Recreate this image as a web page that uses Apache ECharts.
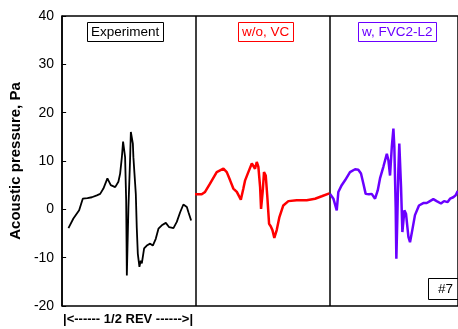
<!DOCTYPE html>
<html><head><meta charset="utf-8">
<script src="https://cdn.jsdelivr.net/npm/echarts@6/dist/echarts.min.js"></script>
<style>html,body{margin:0;padding:0;background:#fff}#c{width:458px;height:329px}</style>
</head><body><div id="c"></div>
<script>
// Phase within each 1/2 revolution panel (0..1) and acoustic pressure (Pa)
const expPhase = [0.047,0.084,0.127,0.154,0.189,0.222,0.259,0.284,0.308,0.338,0.363,0.396,0.420,0.433,0.446,0.455,0.470,0.478,0.483,0.495,0.507,0.513,0.528,0.532,0.540,0.550,0.557,0.565,0.577,0.587,0.595,0.612,0.632,0.657,0.677,0.699,0.719,0.744,0.774,0.799,0.831,0.856,0.881,0.905,0.931,0.943,0.963];
const expPa    = [-3.9,-1.9,-0.2,2.2,2.3,2.5,2.9,3.2,4.3,6.4,5.0,4.6,5.7,7.4,10.8,14.0,10.8,1.9,-13.7,0.5,10.1,16.0,13.6,10.8,7.4,3.2,-3.7,-9.2,-11.9,-10.6,-11.2,-8.1,-7.5,-7.1,-7.5,-6.1,-4.0,-3.3,-2.8,-3.7,-3.9,-2.6,-0.6,1.0,0.5,-0.6,-2.3];

const woPhase = [-0.008,0.042,0.067,0.104,0.154,0.204,0.229,0.254,0.278,0.304,0.334,0.353,0.366,0.390,0.416,0.428,0.440,0.453,0.465,0.478,0.485,0.498,0.507,0.520,0.532,0.545,0.557,0.570,0.584,0.602,0.622,0.651,0.689,0.751,0.826,0.888,0.938,0.995];
const woPa    = [3.1,3.1,3.6,5.3,7.7,8.4,7.7,6.0,4.3,3.6,2.0,4.3,6.0,7.7,9.5,9.8,8.4,9.8,8.8,4.6,0.1,3.9,7.7,7.0,2.5,-3.0,-3.5,-4.3,-5.9,-4.3,-1.6,0.8,1.7,1.9,1.9,2.2,2.7,3.3];

const wPhase = [0.000,0.025,0.050,0.062,0.087,0.112,0.149,0.187,0.211,0.231,0.249,0.266,0.291,0.311,0.336,0.356,0.373,0.398,0.424,0.436,0.448,0.461,0.473,0.480,0.490,0.495,0.502,0.510,0.517,0.530,0.540,0.555,0.567,0.585,0.597,0.614,0.634,0.664,0.696,0.722,0.746,0.771,0.796,0.828,0.851,0.878,0.896,0.920,0.938,0.953];
const wPa    = [3.2,2.2,-0.2,3.6,5.0,6.0,7.7,8.3,8.2,7.4,5.3,3.2,3.1,3.2,2.2,3.9,6.4,8.8,11.5,10.1,7.0,12.9,16.7,12.9,0.5,-10.2,-2.3,8.1,13.6,4.6,-4.7,-0.2,-0.9,-5.7,-6.8,-4.3,-1.2,0.8,1.3,1.3,1.7,2.1,1.7,1.2,1.7,1.5,2.2,2.5,2.9,3.8];

const yTicks = [-20,-10,0,10,20,30,40];
const panelLabels = ['Experiment','w/o, VC','w, FVC2-L2'];
const caseLabel = '#7';
const xLabel = '|<------ 1/2 REV ------>|';
const yLabel = 'Acoustic pressure, Pa';

const FONT = 'Liberation Sans, Arial, sans-serif';
const colors = ['#000000','#ff0000','#6a00ff'];
const pair = (ph, pa, off) => ph.map((p,i)=>[p+off, pa[i]]);
const xMax = 396/134; // visible part of the third panel

const chart = echarts.init(document.getElementById('c'), null, {renderer:'canvas'});
const boxAxis = (pos, split) => ({type:'value', position:pos, min:0, max:xMax, interval:1,
    axisLine:{show:true, onZero:false, lineStyle:{color:'#000', width:1.5}},
    axisTick:{show:false}, axisLabel:{show:false},
    splitLine:{show:split, lineStyle:{color:'#000', width:1.5}}});
chart.setOption({
  animation:false,
  backgroundColor:'#fff',
  grid:{left:62, top:16, right:0, height:290},
  xAxis:[boxAxis('bottom', true), boxAxis('top', false)],
  yAxis:{type:'value', min:yTicks[0], max:yTicks[yTicks.length-1], interval:10,
    name:yLabel, nameLocation:'middle', nameGap:29, nameRotate:90,
    nameTextStyle:{fontFamily:FONT, fontSize:15, fontWeight:'bold', color:'#000'},
    axisLine:{show:true, onZero:false, lineStyle:{color:'#000', width:1.5}},
    axisTick:{show:true, inside:true, length:4, lineStyle:{color:'#000', width:1}},
    axisLabel:{fontFamily:FONT, fontSize:14, color:'#000', margin:8},
    splitLine:{show:false}},
  title:[
    {text:panelLabels[0], left:87, top:22, padding:[3,4], borderColor:colors[0], borderWidth:1,
      textStyle:{fontFamily:FONT, fontSize:13.5, fontWeight:'normal', color:colors[0]}},
    {text:panelLabels[1], left:238, top:22, padding:[3,4], borderColor:colors[1], borderWidth:1,
      textStyle:{fontFamily:FONT, fontSize:13.5, fontWeight:'normal', color:colors[1]}},
    {text:panelLabels[2], left:358, top:22, padding:[3,4], borderColor:colors[2], borderWidth:1,
      textStyle:{fontFamily:FONT, fontSize:13.5, fontWeight:'normal', color:colors[2]}},
    {text:caseLabel, left:428, top:278, padding:[4,10], borderColor:'#000', borderWidth:1,
      textStyle:{fontFamily:FONT, fontSize:13.5, fontWeight:'normal', color:'#000'}},
    {text:xLabel, left:63, top:313, padding:0,
      textStyle:{fontFamily:FONT, fontSize:13, fontWeight:'bold', color:'#000'}}
  ],
  series:[
    {type:'line', data:pair(expPhase, expPa, 0), showSymbol:false, lineStyle:{color:colors[0], width:1.8}, z:3},
    {type:'line', data:pair(woPhase, woPa, 1), showSymbol:false, lineStyle:{color:colors[1], width:2.5}, z:3},
    {type:'line', data:pair(wPhase, wPa, 2), showSymbol:false, lineStyle:{color:colors[2], width:2.5}, z:3}
  ]
});
</script></body></html>
